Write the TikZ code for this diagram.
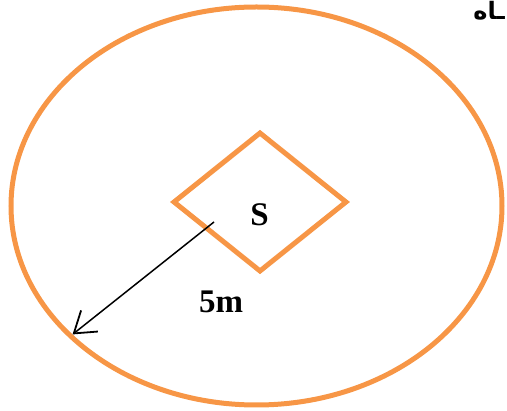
\documentclass[tikz,border=0pt]{standalone}
\usepackage{fontspec}
\setmainfont{Liberation Serif}
\newfontfamily\arabicfont[Script=Arabic, BoldFont={DejaVu Sans Bold}]{DejaVu Sans}
\TeXXeTstate=1
\usetikzlibrary{arrows.meta, positioning, calc, shapes.geometric}

\definecolor{ringorange}{RGB}{247,150,70}

\tikzset{
    ring/.style={draw=ringorange, line width=5pt, ellipse, inner sep=0pt},
    source/.style={draw=ringorange, line width=5pt, diamond, inner sep=0pt},
    radius/.style={-{Straight Barb[length=20pt, width=27pt, line width=1.8pt]}, line width=1.5pt, black, shorten >=5pt},
    bigtext/.style={font=\bfseries\fontsize{33}{38}\selectfont, inner sep=0pt}
}

\begin{document}
\begin{tikzpicture}[x=1pt, y=-1pt]
    \useasboundingbox (0,0) rectangle (507,411);
    \clip (0,0) rectangle (507,411);

    % Outer area around the source
    \node[ring, minimum width=491pt, minimum height=398pt] (area) at (256.5,206) {};

    % Source in the middle
    \node[source, minimum width=174pt, minimum height=140pt] (src) at (260,202) {};
    \node[bigtext, anchor=base] (slabel) at (259.5,226) {S};

    % Radius of the area
    \coordinate (start) at ($(src.center)+(-46,20)$);
    \draw[radius] (start) -- (area.215.8);
    \node[bigtext, anchor=base] (dist) at (221,313) {5m};

    % Cut-off title
    \node[anchor=base east, inner sep=0pt, font=\bfseries\arabicfont\fontsize{24}{28}\selectfont] (title) at (505,20) {\beginR ـاه\endR};
\end{tikzpicture}
\end{document}
